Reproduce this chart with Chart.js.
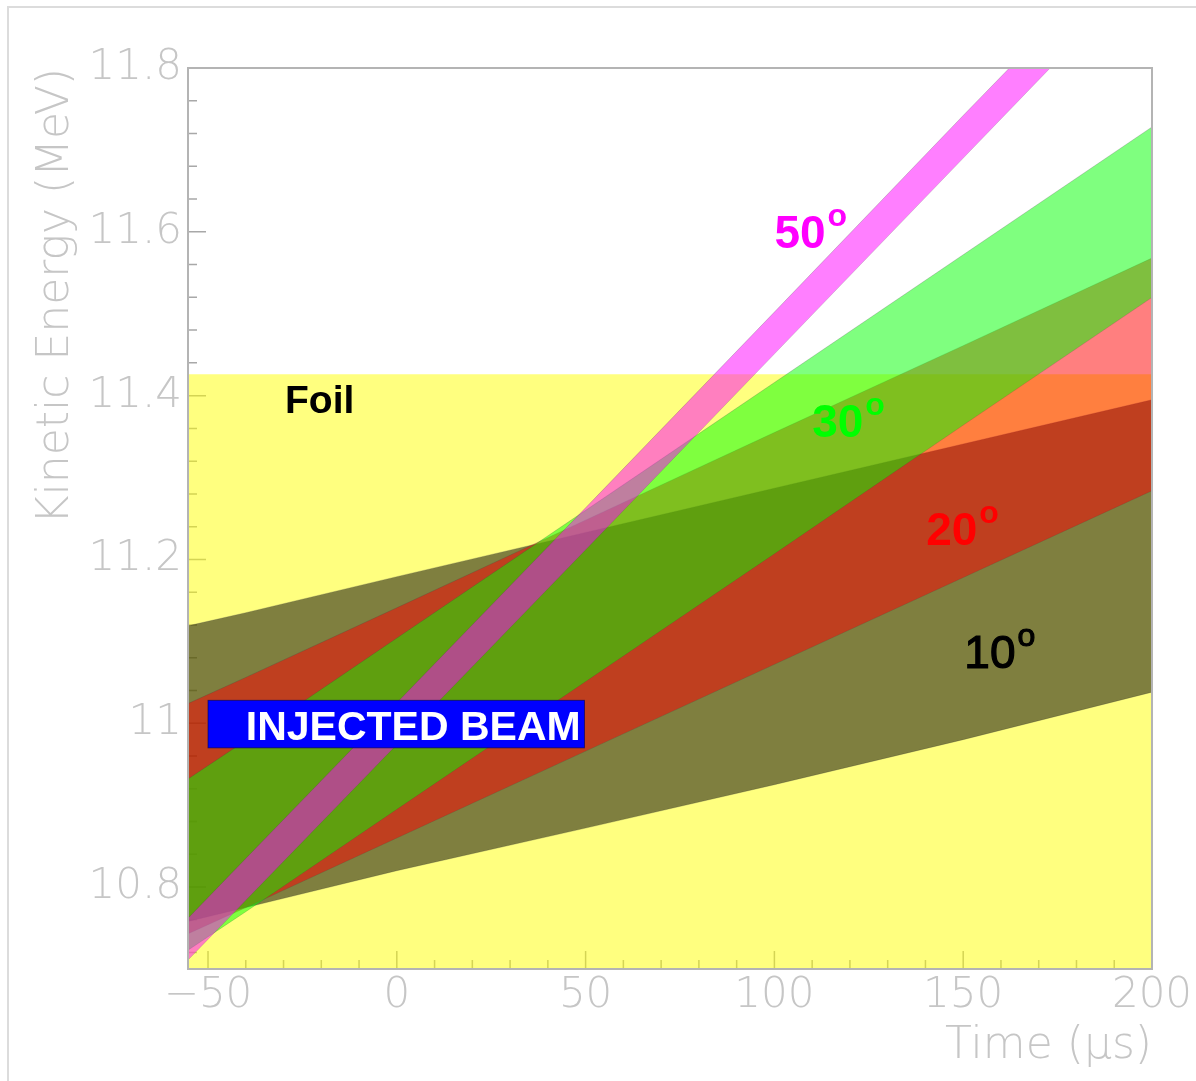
<!DOCTYPE html>
<html>
<head>
<meta charset="utf-8">
<script src="https://cdn.jsdelivr.net/npm/chart.js@4.4.0/dist/chart.umd.min.js"></script>
<style>
  html, body { margin: 0; padding: 0; background: #fff; }
  canvas { display: block; }
</style>
</head>
<body>
<canvas id="energy-chart" width="1196" height="1081"></canvas>
<script>
// time samples (us)
const times = [-55.3, -40, 0, 50, 100, 150, 200];

// band edges, kinetic energy in MeV
const band10Low  = [10.758, 10.775, 10.820, 10.872, 10.925, 10.980, 11.038];
const band10High = [11.119, 11.135, 11.179, 11.233, 11.287, 11.341, 11.395];
const band20Low  = [10.743, 10.775, 10.860, 10.966, 11.072, 11.178, 11.284];
const band20High = [11.024, 11.056, 11.141, 11.248, 11.355, 11.461, 11.568];
const band30Low  = [10.723, 10.770, 10.895, 11.051, 11.207, 11.364, 11.520];
const band30High = [10.932, 10.979, 11.104, 11.260, 11.416, 11.572, 11.728];
const band50Low  = [10.711, 10.784, 10.974, 11.212, 11.451, 11.690, 11.929];
const band50High = [10.762, 10.835, 11.025, 11.263, 11.502, 11.742, 11.979];

// foil region
const foilTimes = [-55.3, 200];
const foilTop = [11.426, 11.426];

// axes
const xTicks = [-50, 0, 50, 100, 150, 200];
const xTickLabels = ['\u221250', '0', '50', '100', '150', '200'];
const yTicks = [10.8, 11, 11.2, 11.4, 11.6, 11.8];
const yTickLabels = ['10.8', '11', '11.2', '11.4', '11.6', '11.8'];

// text labels (data coordinates: left edge, baseline)
const angleLabels = [
  { text: '50', t: 100.0, e: 11.580, color: '#ff00ff', weight: 'bold' },
  { text: '30', t: 110.0, e: 11.349, color: '#00ff00', weight: 'bold' },
  { text: '20', t: 140.2, e: 11.218, color: '#ff0000', weight: 'bold' },
  { text: '10', t: 150.3, e: 11.067, color: '#000000', weight: 'normal' }
];
const foilLabel = { text: 'Foil', t: -29.6, e: 11.379 };
const beamBox = { text: 'INJECTED BEAM', t0: -50.0, t1: 49.7, e0: 10.970, e1: 11.028, textT: -40.0, textE: 10.979 };

const FONT = "'Liberation Sans', Arial, Helvetica, sans-serif";
const AXIS_FONT = "'DejaVu Sans', sans-serif";
const GRAY = '#c6c6c6';

function edge(vals, ts) {
  ts = ts || times;
  return ts.map((t, i) => ({ x: t, y: vals[i] }));
}

function band(label, upper, lower, color) {
  return [
    { label: label, data: edge(upper), fill: '+1', backgroundColor: color },
    { label: label + ' low', data: edge(lower), fill: false }
  ];
}

const rootStyle = {
  id: 'rootStyle',
  beforeDraw(chart) {
    const ctx = chart.ctx;
    ctx.save();
    ctx.strokeStyle = '#dcdcdc';
    ctx.lineWidth = 2;
    ctx.strokeRect(8, 7, 1196, 1081);
    ctx.restore();
  },
  beforeDatasetsDraw(chart) {
    const ctx = chart.ctx;
    const x = chart.scales.x, y = chart.scales.y;
    const a = chart.chartArea;
    ctx.save();
    ctx.strokeStyle = '#a8a8a8';
    ctx.lineWidth = 1.5;
    ctx.beginPath();
    for (let v = -50; v <= 200; v += 10) {
      const px = x.getPixelForValue(v);
      const len = xTicks.includes(v) ? 18 : 9;
      ctx.moveTo(px, a.bottom);
      ctx.lineTo(px, a.bottom - len);
    }
    for (let k = 0; k <= 27; k++) {
      const v = Math.round((10.72 + k * 0.04) * 100) / 100;
      const py = y.getPixelForValue(v);
      const major = yTicks.some(m => Math.abs(m - v) < 1e-6);
      ctx.moveTo(a.left, py);
      ctx.lineTo(a.left + (major ? 18 : 9), py);
    }
    ctx.stroke();
    ctx.restore();
  },
  afterDatasetsDraw(chart) {
    const ctx = chart.ctx;
    const x = chart.scales.x, y = chart.scales.y;
    const a = chart.chartArea;
    ctx.save();
    ctx.strokeStyle = '#b4b4b4';
    ctx.lineWidth = 2;
    ctx.strokeRect(a.left, a.top, a.right - a.left, a.bottom - a.top);

    ctx.textAlign = 'left';
    ctx.textBaseline = 'alphabetic';

    // Foil
    ctx.fillStyle = '#000';
    ctx.font = 'bold 39px ' + FONT;
    ctx.fillText(foilLabel.text, x.getPixelForValue(foilLabel.t), y.getPixelForValue(foilLabel.e));

    // angle labels with degree mark
    angleLabels.forEach(l => {
      const px = x.getPixelForValue(l.t), py = y.getPixelForValue(l.e);
      ctx.fillStyle = l.color;
      ctx.strokeStyle = l.color;
      ctx.lineWidth = 1.2;
      ctx.font = l.weight + ' 46px ' + FONT;
      ctx.fillText(l.text, px, py);
      if (l.weight === 'normal') ctx.strokeText(l.text, px, py);
      const w = ctx.measureText(l.text).width;
      ctx.font = l.weight + ' 32px ' + FONT;
      ctx.fillText('o', px + w + 2, py - 22);
      if (l.weight === 'normal') ctx.strokeText('o', px + w + 2, py - 22);
    });

    // injected beam box
    const bx0 = x.getPixelForValue(beamBox.t0), bx1 = x.getPixelForValue(beamBox.t1);
    const by0 = y.getPixelForValue(beamBox.e1), by1 = y.getPixelForValue(beamBox.e0);
    ctx.fillStyle = '#0000ff';
    ctx.fillRect(bx0, by0, bx1 - bx0, by1 - by0);
    ctx.strokeStyle = 'rgba(0,0,80,0.6)';
    ctx.lineWidth = 1;
    ctx.strokeRect(bx0, by0, bx1 - bx0, by1 - by0);
    ctx.fillStyle = '#ffffff';
    ctx.font = 'bold 41px ' + FONT;
    ctx.fillText(beamBox.text, x.getPixelForValue(beamBox.textT), y.getPixelForValue(beamBox.textE));
    ctx.restore();
  }
};

const datasets = [].concat(
  band('50\u00b0', band50High, band50Low, 'rgba(255,0,255,0.5)'),
  band('30\u00b0', band30High, band30Low, 'rgba(0,255,0,0.5)'),
  band('20\u00b0', band20High, band20Low, 'rgba(255,0,0,0.5)'),
  band('10\u00b0', band10High, band10Low, 'rgba(0,0,0,0.5)'),
  [{ label: 'Foil', data: edge(foilTop, foilTimes), fill: 'start', backgroundColor: 'rgba(255,255,0,0.5)', borderWidth: 0 }]
);
datasets.forEach(d => {
  d.pointRadius = 0;
  d.tension = 0;
  if (d.borderWidth === undefined) {
    d.borderWidth = 1;
    d.borderColor = 'rgba(60,60,60,0.22)';
  }
});

const axisFont = { family: AXIS_FONT, size: 42, weight: 200 };
const titleFont = { family: AXIS_FONT, size: 44, weight: 200 };

new Chart(document.getElementById('energy-chart'), {
  type: 'line',
  data: { datasets: datasets },
  options: {
    responsive: false,
    animation: false,
    layout: { padding: { top: 68, right: 44, left: 0, bottom: 0 } },
    plugins: { legend: { display: false }, tooltip: { enabled: false } },
    scales: {
      x: {
        type: 'linear',
        min: -55.3,
        max: 200,
        grid: { display: false, drawTicks: false },
        border: { display: false },
        afterBuildTicks: s => { s.ticks = xTicks.map(v => ({ value: v })); },
        afterFit: s => { s.height = 112; },
        ticks: {
          autoSkip: false,
          maxRotation: 0,
          padding: 2,
          color: GRAY,
          font: axisFont,
          callback: (v) => xTickLabels[xTicks.indexOf(v)]
        },
        title: {
          display: true,
          text: 'Time (\u03bcs)',
          align: 'end',
          color: GRAY,
          font: titleFont,
          padding: { top: 0, bottom: 8 }
        }
      },
      y: {
        min: 10.7,
        max: 11.8,
        grid: { display: false, drawTicks: false },
        border: { display: false },
        afterBuildTicks: s => { s.ticks = yTicks.map(v => ({ value: v })); },
        afterFit: s => { s.width = 188; },
        ticks: {
          padding: 6,
          color: GRAY,
          font: axisFont,
          callback: (v) => yTickLabels[yTicks.findIndex(m => Math.abs(m - v) < 1e-6)]
        },
        title: {
          display: true,
          text: 'Kinetic Energy (MeV)',
          align: 'end',
          color: GRAY,
          font: titleFont,
          padding: { top: 30, bottom: 0 }
        }
      }
    }
  },
  plugins: [rootStyle]
});
</script>
</body>
</html>
